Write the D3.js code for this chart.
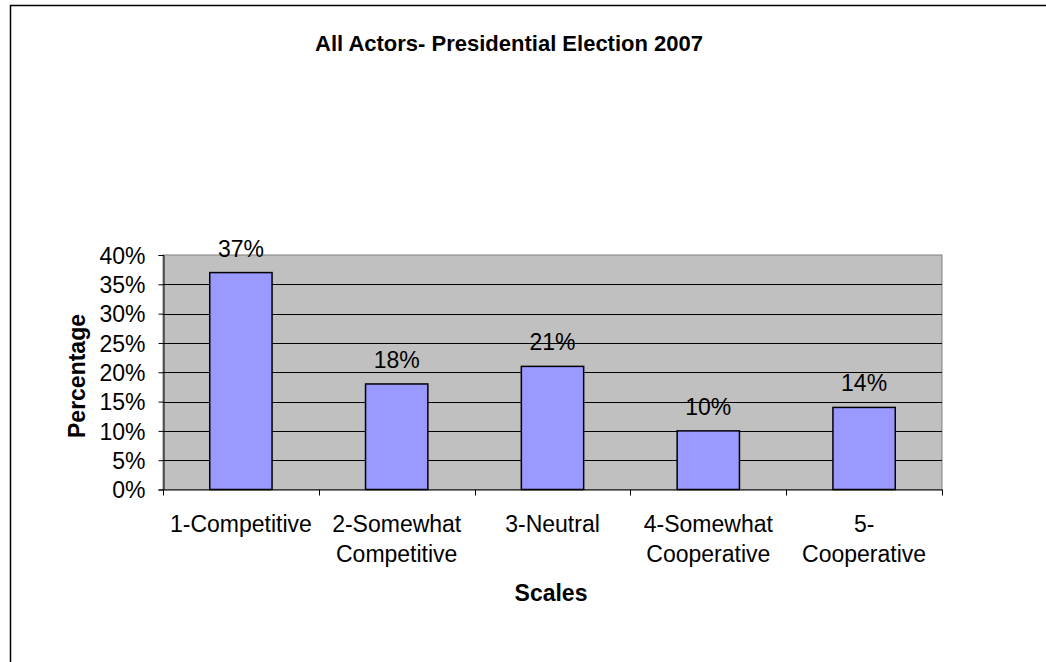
<!DOCTYPE html>
<html>
<head>
<meta charset="utf-8">
<script src="https://cdn.jsdelivr.net/npm/d3@7"></script>
<style>
body { margin: 0; background: #fff; }
text { font-family: "Liberation Sans", Arial, sans-serif; fill: #000; }
</style>
</head>
<body>
<svg id="chart"></svg>
<script>
// chart data
var categories = ["1-Competitive", "2-Somewhat Competitive", "3-Neutral", "4-Somewhat Cooperative", "5-Cooperative"];
var categoryLines = [["1-Competitive"], ["2-Somewhat", "Competitive"], ["3-Neutral"], ["4-Somewhat", "Cooperative"], ["5-", "Cooperative"]];
var values = [37, 18, 21, 10, 14];
var yTicks = [0, 5, 10, 15, 20, 25, 30, 35, 40];

var width = 1046, height = 662;
var plot = { left: 163, top: 255, right: 942, bottom: 489.5 };
var fontSize = "23px";

var svg = d3.select("#chart")
    .attr("width", width)
    .attr("height", height);

// outer chart border (only left/top visible in the frame)
svg.append("rect")
    .attr("x", 10.5).attr("y", 5.5)
    .attr("width", 1100).attr("height", 700)
    .attr("fill", "#fff")
    .attr("stroke", "#000")
    .attr("stroke-width", 1.5);

var x = d3.scaleBand()
    .domain(categories)
    .range([plot.left, plot.right])
    .paddingInner(0.6)
    .paddingOuter(0.3);

var xBand = d3.scaleBand()
    .domain(categories)
    .range([plot.left, plot.right]);

var y = d3.scaleLinear()
    .domain([0, 40])
    .range([plot.bottom, plot.top]);

// plot background
svg.append("rect")
    .attr("x", plot.left).attr("y", plot.top)
    .attr("width", plot.right - plot.left)
    .attr("height", plot.bottom - plot.top)
    .attr("fill", "#c0c0c0")
    .attr("stroke", "#808080")
    .attr("stroke-width", 1);

// gridlines
svg.append("g")
    .selectAll("line")
    .data(yTicks.filter(function (d) { return d > 0 && d < 40; }))
    .enter()
    .append("line")
    .attr("x1", plot.left).attr("x2", plot.right)
    .attr("y1", function (d) { return Math.round(y(d)) + 0.5; })
    .attr("y2", function (d) { return Math.round(y(d)) + 0.5; })
    .attr("stroke", "#000")
    .attr("stroke-width", 1);

// bars
svg.append("g")
    .selectAll("rect")
    .data(values)
    .enter()
    .append("rect")
    .attr("x", function (d, i) { return x(categories[i]); })
    .attr("y", function (d) { return y(d); })
    .attr("width", x.bandwidth())
    .attr("height", function (d) { return y(0) - y(d); })
    .attr("fill", "#9999ff")
    .attr("stroke", "#000")
    .attr("stroke-width", 1.5);

// value labels
svg.append("g")
    .selectAll("text")
    .data(values)
    .enter()
    .append("text")
    .attr("x", function (d, i) { return x(categories[i]) + x.bandwidth() / 2; })
    .attr("y", function (d) { return y(d) - 16; })
    .attr("text-anchor", "middle")
    .style("font-size", fontSize)
    .text(function (d) { return d + "%"; });

// y axis
var yAxis = d3.axisLeft(y)
    .tickValues(yTicks)
    .tickSize(5)
    .tickPadding(13)
    .tickFormat(function (d) { return d + "%"; });

var gy = svg.append("g")
    .attr("transform", "translate(" + (plot.left + 0.5) + ",0)")
    .call(yAxis);
gy.select(".domain").attr("stroke", "#000");
gy.selectAll(".tick line").attr("stroke", "#000");
gy.selectAll(".tick text")
    .attr("font-family", null)
    .style("font-size", fontSize)
    .attr("dy", "0.36em");

// x axis line and ticks at category boundaries
svg.append("line")
    .attr("x1", plot.left).attr("x2", plot.right)
    .attr("y1", plot.bottom + 0.5).attr("y2", plot.bottom + 0.5)
    .attr("stroke", "#000");

var bounds = categories.map(function (c) { return xBand(c); }).concat([plot.right]);
svg.append("g")
    .selectAll("line")
    .data(bounds)
    .enter()
    .append("line")
    .attr("x1", function (d) { return Math.round(d) + 0.5; })
    .attr("x2", function (d) { return Math.round(d) + 0.5; })
    .attr("y1", plot.bottom)
    .attr("y2", plot.bottom + 6)
    .attr("stroke", "#000");

// category labels
var catLabels = svg.append("g")
    .selectAll("text")
    .data(categories)
    .enter()
    .append("text")
    .attr("text-anchor", "middle")
    .style("font-size", fontSize)
    .attr("transform", function (d) {
        return "translate(" + (xBand(d) + xBand.bandwidth() / 2) + ",531.5)";
    });
catLabels.selectAll("tspan")
    .data(function (d, i) { return categoryLines[i]; })
    .enter()
    .append("tspan")
    .attr("x", 0)
    .attr("y", function (d, i) { return i * 30; })
    .text(function (d) { return d; });

// title
svg.append("text")
    .attr("x", 509).attr("y", 51)
    .attr("text-anchor", "middle")
    .style("font-size", "22px")
    .style("font-weight", "bold")
    .text("All Actors- Presidential Election 2007");

// axis titles
svg.append("text")
    .attr("transform", "translate(85,376) rotate(-90)")
    .attr("text-anchor", "middle")
    .style("font-size", fontSize)
    .style("font-weight", "bold")
    .text("Percentage");

svg.append("text")
    .attr("x", 551).attr("y", 601)
    .attr("text-anchor", "middle")
    .style("font-size", fontSize)
    .style("font-weight", "bold")
    .text("Scales");
</script>
</body>
</html>
